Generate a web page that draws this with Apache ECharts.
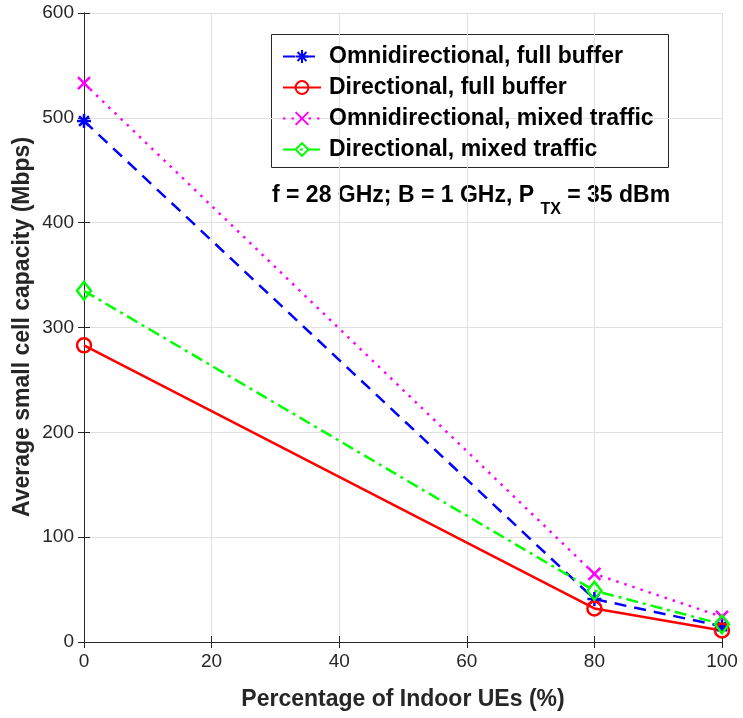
<!DOCTYPE html>
<html>
<head>
<meta charset="utf-8">
<script src="https://cdn.jsdelivr.net/npm/echarts@6/dist/echarts.min.js"></script>
<style>
html,body{margin:0;padding:0;background:#fff;}
#chart{width:743px;height:718px;}
</style>
</head>
<body>
<div id="chart"></div>
<script>
const xValues = [0, 80, 100];
const omniFull = [497, 41, 15];
const dirFull = [283, 32, 11];
const omniMixed = [533, 65, 24];
const dirMixed = [335, 49, 17];
const seriesNames = [
  'Omnidirectional, full buffer',
  'Directional, full buffer',
  'Omnidirectional, mixed traffic',
  'Directional, mixed traffic'
];
const xTitle = 'Percentage of Indoor UEs (%)';
const yTitle = 'Average small cell capacity (Mbps)';

const FONT = 'Liberation Sans, Arial, Helvetica, sans-serif';
const AXIS = '#262626';
const asterisk = 'path://M0,-10L0,10M-10,0L10,0M-7,-7L7,7M-7,7L7,-7';
const cross = 'path://M-10,-10L10,10M-10,10L10,-10';

function pts(v){ return xValues.map((x,i)=>[x, v[i]]); }

const chart = echarts.init(document.getElementById('chart'), null, {renderer:'canvas'});
const option = {
  animation: false,
  backgroundColor: '#ffffff',
  grid: {left: 84, top: 13, right: 21, bottom: 76, containLabel: false},
  xAxis: [{
    type: 'value', min: 0, max: 100, interval: 20,
    name: xTitle, nameLocation: 'middle', nameGap: 46,
    nameTextStyle: {fontFamily: FONT, fontSize: 23, fontWeight: 'bold', color: AXIS},
    axisLine: {show: true, lineStyle: {color: AXIS, width: 1}},
    axisTick: {show: true, inside: true, length: 6, lineStyle: {color: AXIS}},
    axisLabel: {fontFamily: FONT, fontSize: 19, color: AXIS, margin: 10},
    splitLine: {show: true, lineStyle: {color: '#e0e0e0', width: 1}}
  }, {
    type: 'value', position: 'top', min: 0, max: 100, interval: 20,
    axisLine: {show: true, lineStyle: {color: AXIS, width: 1}},
    axisTick: {show: true, inside: true, length: 6, lineStyle: {color: AXIS}},
    axisLabel: {show: false}, splitLine: {show: false}
  }],
  yAxis: [{
    type: 'value', min: 0, max: 600, interval: 100,
    axisLine: {show: true, lineStyle: {color: AXIS, width: 1}},
    axisTick: {show: true, inside: true, length: 6, lineStyle: {color: AXIS}},
    axisLabel: {fontFamily: FONT, fontSize: 19, color: AXIS, margin: 10},
    splitLine: {show: true, lineStyle: {color: '#e0e0e0', width: 1}}
  }, {
    type: 'value', position: 'right', min: 0, max: 600, interval: 100,
    axisLine: {show: true, lineStyle: {color: AXIS, width: 1}},
    axisTick: {show: true, inside: true, length: 6, lineStyle: {color: AXIS}},
    axisLabel: {show: false}, splitLine: {show: false}
  }],
  legend: {
    orient: 'vertical', left: 277, top: 40,
    itemWidth: 38, itemHeight: 16, itemGap: 8,
    textStyle: {fontFamily: FONT, fontSize: 23, fontWeight: 'bold', color: '#000', lineHeight: 22, padding: [0,0,0,3]},
    data: seriesNames
  },
  graphic: [{
    type: 'rect', left: 271, top: 34, z: 0,
    shape: {width: 397, height: 133},
    style: {fill: '#fff', stroke: '#262626', lineWidth: 1}
  }, {
    type: 'text', x: 23, y: 327, rotation: Math.PI / 2,
    style: {
      text: yTitle, fontFamily: FONT, fontSize: 23, fontWeight: 'bold', fill: AXIS,
      align: 'center', verticalAlign: 'middle'
    }
  }, {
    type: 'text', left: 272, top: 184,
    style: {
      text: '{a|f = 28 GHz; B = 1 GHz, P }{s|TX}{a| = 35 dBm}',
      rich: {
        a: {fontFamily: FONT, fontSize: 23, fontWeight: 'bold', fill: '#000'},
        s: {fontFamily: FONT, fontSize: 16, fontWeight: 'bold', fill: '#000', padding: [28,0,0,0]}
      }
    }
  }],
  series: [{
    name: seriesNames[0], type: 'line', data: pts(omniFull),
    symbol: asterisk, symbolSize: 14,
    lineStyle: {color: '#0000ff', width: 2.5, type: [12, 8]},
    itemStyle: {color: 'none', borderColor: '#0000ff', borderWidth: 2.5}
  }, {
    name: seriesNames[1], type: 'line', data: pts(dirFull),
    symbol: 'circle', symbolSize: 14,
    lineStyle: {color: '#ff0000', width: 2.5, type: 'solid'},
    itemStyle: {color: 'none', borderColor: '#ff0000', borderWidth: 2.5}
  }, {
    name: seriesNames[2], type: 'line', data: pts(omniMixed),
    symbol: cross, symbolSize: 12,
    lineStyle: {color: '#ff00ff', width: 2.5, type: [2.5, 6]},
    itemStyle: {color: 'none', borderColor: '#ff00ff', borderWidth: 2.5}
  }, {
    name: seriesNames[3], type: 'line', data: pts(dirMixed),
    symbol: 'diamond', symbolSize: [14, 18],
    lineStyle: {color: '#00ff00', width: 2.5, type: [12, 5, 3, 5]},
    itemStyle: {color: 'none', borderColor: '#00ff00', borderWidth: 2.5}
  }]
};
chart.setOption(option);
</script>
</body>
</html>
